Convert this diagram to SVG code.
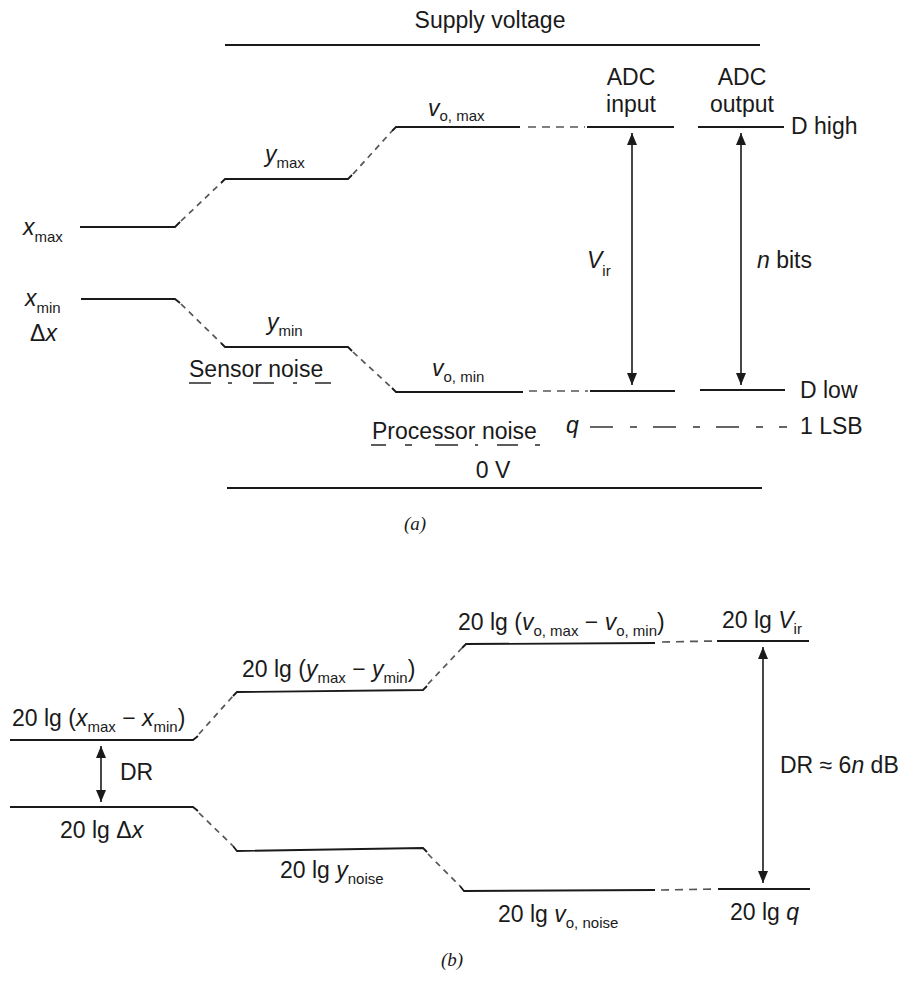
<svg xmlns="http://www.w3.org/2000/svg" width="902" height="984" viewBox="0 0 902 984">
<style>
text{font-family:"Liberation Sans",Arial,Helvetica,sans-serif;font-size:23px;fill:#1a1a1a}
.it{font-style:italic}
.sub{font-size:15px}
.cap{font-family:"Liberation Serif","Times New Roman",serif;font-style:italic;font-size:19px}
.lv{stroke:#1a1a1a;stroke-width:1.8;fill:none}
.dg{stroke:#555;stroke-width:1.7;stroke-dasharray:6 5;fill:none}
.dh{stroke:#555;stroke-width:1.7;stroke-dasharray:8 6;fill:none}
.ul{stroke:#333;stroke-width:1.6}
.ar{stroke:#1a1a1a;stroke-width:1.6;marker-start:url(#ah);marker-end:url(#ah)}
</style>
<defs>
<marker id="ah" viewBox="0 0 12 10" refX="12" refY="5" markerWidth="12" markerHeight="10" markerUnits="userSpaceOnUse" orient="auto-start-reverse">
<path d="M0,0 L12,5 L0,10 z" fill="#1a1a1a"/>
</marker>
</defs>
<rect width="902" height="984" fill="#fff"/>

<!-- ===== (a) ===== -->
<g id="supply">
<text x="490" y="28" text-anchor="middle">Supply voltage</text>
<line class="lv" x1="225" y1="45" x2="760" y2="45"/>
</g>
<g id="zero-v">
<text x="493" y="478" text-anchor="middle">0 V</text>
<line class="lv" x1="227" y1="488" x2="762" y2="488"/>
</g>

<g id="xmax">
<text x="23" y="235"><tspan class="it">x</tspan><tspan class="sub" dy="7">max</tspan></text>
<path class="lv" d="M80,227 H175 L180,222"/>
</g>
<g id="ymax">
<text x="265" y="162"><tspan class="it">y</tspan><tspan class="sub" dy="6">max</tspan></text>
<path class="lv" d="M221,183 L225,179 H348 L352,175"/>
</g>
<g id="vomax">
<text x="428" y="116"><tspan class="it">v</tspan><tspan class="sub" dy="5">o, max</tspan></text>
<path class="lv" d="M392,131 L396,127 H520"/>
</g>
<g id="adc-in">
<text x="631" y="85" text-anchor="middle">ADC</text>
<text x="631" y="112" text-anchor="middle">input</text>
<line class="lv" x1="587" y1="127" x2="674" y2="127"/>
<line class="lv" x1="590" y1="391" x2="675" y2="391"/>
</g>
<g id="adc-out">
<text x="742" y="85" text-anchor="middle">ADC</text>
<text x="742" y="112" text-anchor="middle">output</text>
<line class="lv" x1="698" y1="127" x2="784" y2="127"/>
<line class="lv" x1="700" y1="390" x2="785" y2="390"/>
<text x="791" y="134">D high</text>
<text x="800" y="398">D low</text>
</g>
<g id="xmin">
<text x="25" y="306"><tspan class="it">x</tspan><tspan class="sub" dy="7">min</tspan></text>
<text x="30" y="341">Δ<tspan class="it">x</tspan></text>
<path class="lv" d="M81,299 H175 L180,303"/>
</g>
<g id="ymin">
<text x="267" y="330"><tspan class="it">y</tspan><tspan class="sub" dy="6">min</tspan></text>
<path class="lv" d="M221,343 L225,347 H348 L352,351"/>
</g>
<g id="sensor-noise">
<text x="189" y="377">Sensor noise</text>
<g class="ul">
<line x1="189" y1="383" x2="211" y2="383"/>
<line x1="228" y1="383" x2="232" y2="383"/>
<line x1="253" y1="383" x2="274" y2="383"/>
<line x1="293" y1="383" x2="297" y2="383"/>
<line x1="315" y1="383" x2="331" y2="383"/>
</g>
</g>
<g id="vomin">
<text x="432" y="376"><tspan class="it">v</tspan><tspan class="sub" dy="6">o, min</tspan></text>
<path class="lv" d="M392,388 L396,392 H523"/>
</g>
<g id="processor-noise">
<text x="372" y="439">Processor noise</text>
<g class="ul">
<line x1="371" y1="445" x2="386" y2="445"/>
<line x1="405" y1="445" x2="412" y2="445"/>
<line x1="435" y1="445" x2="458" y2="445"/>
<line x1="475" y1="445" x2="478" y2="445"/>
<line x1="497" y1="445" x2="518" y2="445"/>
<line x1="535" y1="445" x2="540" y2="445"/>
</g>
</g>
<g id="lsb">
<text x="566" y="433" class="it">q</text>
<line x1="590" y1="427" x2="787" y2="427" stroke="#333" stroke-width="1.6" stroke-dasharray="23 17 7 16"/>
<text x="800" y="434">1 LSB</text>
</g>
<g id="labels-a">
<text x="587" y="268"><tspan class="it">V</tspan><tspan class="sub" dy="8">ir</tspan></text>
<text x="757" y="268"><tspan class="it">n</tspan> bits</text>
<text x="415" y="530" class="cap" text-anchor="middle">(a)</text>
</g>

<!-- ===== (b) ===== -->
<g id="b-x">
<text x="12" y="726">20 lg (<tspan class="it">x</tspan><tspan class="sub" dy="6">max</tspan><tspan dy="-6"> − </tspan><tspan class="it">x</tspan><tspan class="sub" dy="6">min</tspan><tspan dy="-6">)</tspan></text>
<path class="lv" d="M10,740 H193 L198,736"/>
</g>
<g id="b-y">
<text x="242" y="677">20 lg (<tspan class="it">y</tspan><tspan class="sub" dy="6">max</tspan><tspan dy="-6"> − </tspan><tspan class="it">y</tspan><tspan class="sub" dy="6">min</tspan><tspan dy="-6">)</tspan></text>
<path class="lv" d="M233,696 L237,692 L423,690 L427,686"/>
</g>
<g id="b-vo">
<text x="458" y="630">20 lg (<tspan class="it">v</tspan><tspan class="sub" dy="6">o, max</tspan><tspan dy="-6"> − </tspan><tspan class="it">v</tspan><tspan class="sub" dy="6">o, min</tspan><tspan dy="-6">)</tspan></text>
<path class="lv" d="M462,648 L466,644 L655,643"/>
</g>
<g id="b-vir">
<text x="722" y="628">20 lg <tspan class="it">V</tspan><tspan class="sub" dy="6">ir</tspan></text>
<line class="lv" x1="717" y1="641" x2="809" y2="641"/>
</g>
<g id="b-dx">
<text x="60" y="838">20 lg Δ<tspan class="it">x</tspan></text>
<path class="lv" d="M10,807 H193 L198,811"/>
</g>
<g id="b-ynoise">
<text x="280" y="878">20 lg <tspan class="it">y</tspan><tspan class="sub" dy="6">noise</tspan></text>
<path class="lv" d="M233,846 L237,851 L423,848 L427,852"/>
</g>
<g id="b-vonoise">
<text x="498" y="922">20 lg <tspan class="it">v</tspan><tspan class="sub" dy="6">o, noise</tspan></text>
<path class="lv" d="M460,886 L464,891 L655,890"/>
</g>
<g id="b-q">
<text x="730" y="920">20 lg <tspan class="it">q</tspan></text>
<line class="lv" x1="718" y1="889" x2="810" y2="889"/>
</g>
<g id="labels-b">
<text x="120" y="780">DR</text>
<text x="780" y="773">DR ≈ 6<tspan class="it">n</tspan> dB</text>
<text x="452" y="966" class="cap" text-anchor="middle">(b)</text>
</g>

<!-- ===== connectors ===== -->
<g id="connectors">
<!-- (a) dashed transitions -->
<line class="dg" x1="181" y1="221" x2="221" y2="183"/>
<line class="dg" x1="353" y1="174" x2="392" y2="131"/>
<line class="dh" x1="528" y1="127" x2="585" y2="127"/>
<line class="dg" x1="181" y1="304" x2="221" y2="343"/>
<line class="dg" x1="353" y1="352" x2="392" y2="388"/>
<line class="dh" x1="529" y1="391" x2="588" y2="391"/>
<!-- (a) arrows -->
<line class="ar" x1="632" y1="133" x2="632" y2="385"/>
<line class="ar" x1="741" y1="133" x2="741" y2="385"/>
<!-- (b) dashed transitions -->
<line class="dg" x1="199" y1="734" x2="233" y2="696"/>
<line class="dg" x1="428" y1="684" x2="462" y2="648"/>
<line class="dh" x1="662" y1="642" x2="715" y2="641"/>
<line class="dg" x1="199" y1="813" x2="233" y2="846"/>
<line class="dg" x1="428" y1="854" x2="460" y2="886"/>
<line class="dh" x1="661" y1="890" x2="716" y2="889"/>
<!-- (b) arrows -->
<line class="ar" x1="101" y1="746" x2="101" y2="802"/>
<line class="ar" x1="763" y1="647" x2="763" y2="883"/>
</g>
</svg>
